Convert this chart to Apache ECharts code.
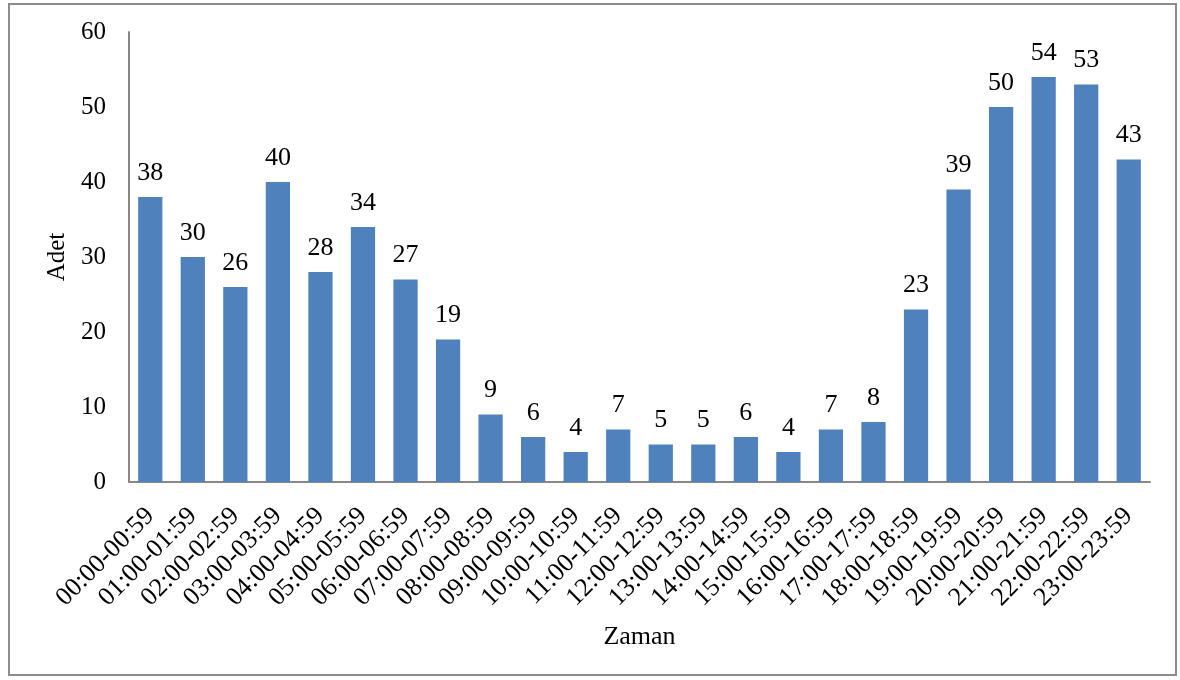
<!DOCTYPE html>
<html><head><meta charset="utf-8">
<script src="https://cdn.jsdelivr.net/npm/echarts@6/dist/echarts.min.js"></script>
<style>html,body{margin:0;padding:0;background:#fff}#c{width:1180px;height:680px;}
#frame{position:absolute;left:8px;top:3px;width:1169px;height:673px;border:2px solid #8c8c8c;box-sizing:border-box;pointer-events:none}</style>
</head><body><div id="c"></div><div id="frame"></div>
<script>
var categories = ["00:00-00:59","01:00-01:59","02:00-02:59","03:00-03:59","04:00-04:59","05:00-05:59","06:00-06:59","07:00-07:59","08:00-08:59","09:00-09:59","10:00-10:59","11:00-11:59","12:00-12:59","13:00-13:59","14:00-14:59","15:00-15:59","16:00-16:59","17:00-17:59","18:00-18:59","19:00-19:59","20:00-20:59","21:00-21:59","22:00-22:59","23:00-23:59"];
var values = [38,30,26,40,28,34,27,19,9,6,4,7,5,5,6,4,7,8,23,39,50,54,53,43];
var yTicks = [0,10,20,30,40,50,60];
var font = "'Liberation Serif','Times New Roman',serif";
var chart = echarts.init(document.getElementById('c'), null, {renderer:'canvas'});
chart.setOption({
  animation:false,
  grid:{left:129, right:30, top:32, bottom:198, containLabel:false},
  xAxis:{type:'category', data:categories, name:'Zaman', nameLocation:'middle', nameGap:142,
    nameTextStyle:{fontFamily:font, fontSize:26, color:'#000'},
    axisLine:{lineStyle:{color:'#888', width:2}}, axisTick:{show:false},
    axisLabel:{rotate:45, interval:0, fontFamily:font, fontSize:26, color:'#000', margin:30}},
  yAxis:{type:'value', min:0, max:60, interval:10, name:'Adet', nameLocation:'middle', nameGap:58,
    nameTextStyle:{fontFamily:font, fontSize:25, color:'#000'},
    axisLine:{show:true, lineStyle:{color:'#888', width:2}}, axisTick:{show:false}, splitLine:{show:false},
    axisLabel:{fontFamily:font, fontSize:25, color:'#000', margin:23,
      formatter:function(v){return yTicks.indexOf(v)>=0?String(v):'';}}},
  series:[{type:'bar', data:values, barWidth:'57%', itemStyle:{color:'#4F81BD'},
    label:{show:true, position:'top', distance:11, fontFamily:font, fontSize:26, color:'#000'}}]
});
</script></body></html>
